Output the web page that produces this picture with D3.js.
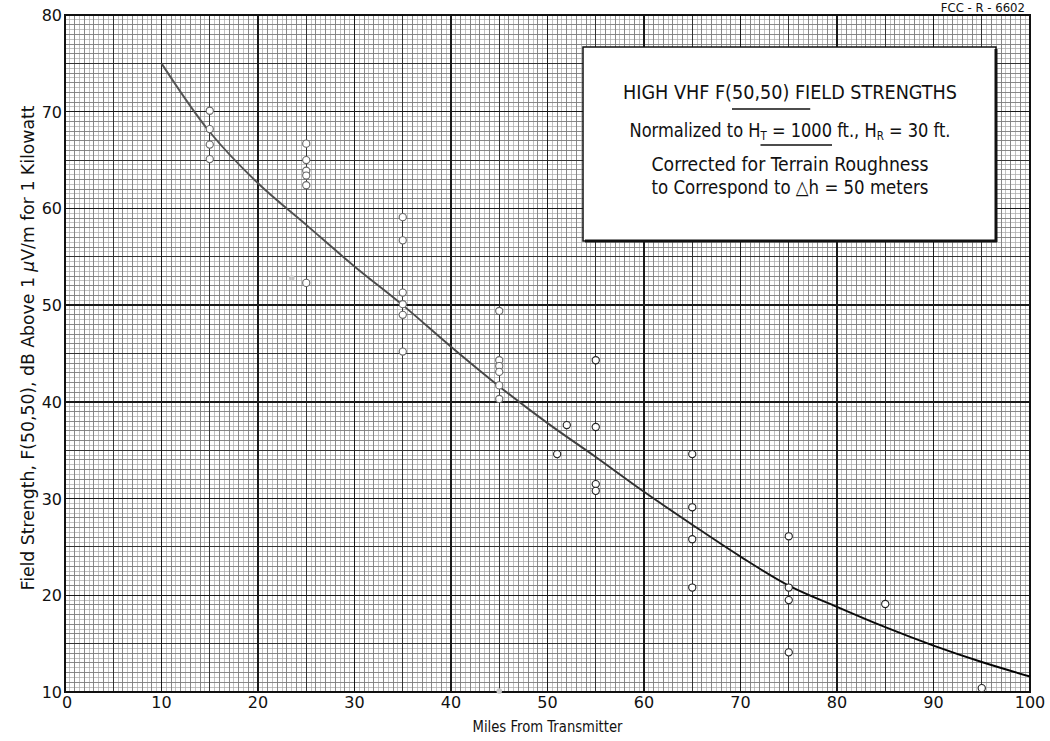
<!DOCTYPE html>
<html>
<head>
<meta charset="utf-8">
<script src="https://cdn.jsdelivr.net/npm/d3@7"></script>
<style>
  html, body { margin: 0; padding: 0; background: #fff; }
  svg { display: block; }
  .cond { font-family: 'Liberation Sans Narrow', 'DejaVu Sans Condensed', 'Roboto Condensed', 'Liberation Sans', sans-serif; }
  .tick { font-family: 'DejaVu Sans', sans-serif; }
</style>
</head>
<body>
<svg id="chart" width="1050" height="741"></svg>
<script>
// ---- Data ----
const xTicks = [0, 10, 20, 30, 40, 50, 60, 70, 80, 90, 100];
const yTicks = [10, 20, 30, 40, 50, 60, 70, 80];

// Measured points (miles, dB)
const pointMiles = [15, 15, 15, 15,
  25, 25, 25, 25, 25, 25,
  35, 35, 35, 35, 35, 35,
  45, 45, 45, 45, 45, 45,
  51, 52,
  55, 55, 55, 55,
  65, 65, 65, 65,
  75, 75, 75, 75,
  85, 95];
const pointDb = [70.1, 68.2, 66.6, 65.1,
  66.7, 65.0, 63.9, 63.4, 62.4, 52.3,
  59.1, 56.7, 51.3, 50.1, 49.0, 45.2,
  49.4, 44.3, 43.7, 43.1, 41.7, 40.3,
  34.6, 37.6,
  44.3, 37.4, 31.5, 30.8,
  34.6, 29.1, 25.8, 20.8,
  26.1, 20.8, 19.5, 14.1,
  19.1, 10.4];

// Faint smudged points
const faintMiles = [23.5, 45];
const faintDb = [52.8, 10.1];

// Fitted curve
const curveMiles = [10, 15, 20, 25, 30, 35, 40, 45, 50, 55, 60, 65, 70, 75, 80, 85, 90, 95, 100];
const curveDb = [75.0, 67.9, 62.6, 58.3, 54.0, 50.0, 45.7, 41.6, 37.8, 34.3, 30.7, 27.3, 24.0, 21.0, 18.8, 16.7, 14.8, 13.1, 11.6];

// ---- Layout ----
const svg = d3.select('#chart');
const pL = 65, pR = 1030, pT = 15, pB = 692;
const x = d3.scaleLinear().domain([0, 100]).range([pL, pR]);
const y = d3.scaleLinear().domain([10, 80]).range([pB, pT]);

// Grid
const g = svg.append('g');
function vlines(step, color, w) {
  g.append('g').selectAll('line').data(d3.range(0, 100 + 1e-9, step)).join('line')
    .attr('x1', d => x(d)).attr('x2', d => x(d)).attr('y1', pT).attr('y2', pB)
    .attr('stroke', color).attr('stroke-width', w).attr('shape-rendering', 'crispEdges');
}
function hlines(step, color, w) {
  g.append('g').selectAll('line').data(d3.range(10, 80 + 1e-9, step)).join('line')
    .attr('y1', d => y(d)).attr('y2', d => y(d)).attr('x1', pL).attr('x2', pR)
    .attr('stroke', color).attr('stroke-width', w).attr('shape-rendering', 'crispEdges');
}
vlines(0.5, '#a8a8a8', 0.7); hlines(0.5, '#a8a8a8', 0.7);
vlines(1, '#7a7a7a', 0.8); hlines(1, '#7a7a7a', 0.8);
vlines(5, '#333', 1.1); hlines(5, '#333', 1.1);
vlines(10, '#1a1a1a', 1.4); hlines(10, '#1a1a1a', 1.4);
g.append('rect').attr('x', pL).attr('y', pT).attr('width', pR - pL).attr('height', pB - pT)
  .attr('fill', 'none').attr('stroke', '#111').attr('stroke-width', 2);

// Axis labels (ticks)
svg.append('g').selectAll('text').data(xTicks).join('text').attr('class', 'tick')
  .attr('x', d => x(d) + (d === 0 ? 2 : 0)).attr('y', pB + 16)
  .attr('text-anchor', 'middle').attr('font-size', 16).attr('fill', '#111').text(d => d);
svg.append('g').selectAll('text').data(yTicks).join('text').attr('class', 'tick')
  .attr('x', pL - 3).attr('y', d => y(d) + 6)
  .attr('text-anchor', 'end').attr('font-size', 16).attr('fill', '#111').text(d => d);

// Curve with gradient (lighter on left, darker on right as in the print)
const defs = svg.append('defs');
const grad = defs.append('linearGradient').attr('id', 'cg').attr('gradientUnits', 'userSpaceOnUse')
  .attr('x1', x(10)).attr('x2', x(100)).attr('y1', 0).attr('y2', 0);
grad.append('stop').attr('offset', '0%').attr('stop-color', '#555');
grad.append('stop').attr('offset', '45%').attr('stop-color', '#444');
grad.append('stop').attr('offset', '70%').attr('stop-color', '#111');
grad.append('stop').attr('offset', '100%').attr('stop-color', '#000');
const line = d3.line().x((d, i) => x(curveMiles[i])).y(d => y(d)).curve(d3.curveCatmullRom);
svg.append('path').datum(curveDb).attr('d', line).attr('fill', 'none')
  .attr('stroke', 'url(#cg)').attr('stroke-width', 1.9);

// Points
svg.append('g').selectAll('circle').data(pointDb).join('circle')
  .attr('cx', (d, i) => x(pointMiles[i])).attr('cy', d => y(d)).attr('r', 3.6)
  .attr('fill', '#fff').attr('stroke', (d, i) => pointMiles[i] < 50 ? '#666' : '#222').attr('stroke-width', 1.1);
svg.append('g').selectAll('circle').data(faintDb).join('circle')
  .attr('cx', (d, i) => x(faintMiles[i])).attr('cy', d => y(d)).attr('r', 2.8)
  .attr('fill', '#c8c8c8').attr('stroke', 'none');

// Legend box
const bx = 583, by = 47, bw = 413, bh = 194;
svg.append('rect').attr('x', bx).attr('y', by).attr('width', bw).attr('height', bh)
  .attr('fill', '#fff').attr('stroke', '#111').attr('stroke-width', 1.5);
svg.append('line').attr('x1', bx + bw).attr('x2', bx + bw).attr('y1', by + 2).attr('y2', by + bh + 1)
  .attr('stroke', '#111').attr('stroke-width', 3);
svg.append('line').attr('x1', bx + 2).attr('x2', bx + bw + 1).attr('y1', by + bh).attr('y2', by + bh)
  .attr('stroke', '#111').attr('stroke-width', 3);

const cx = 790;
function condText(yy, size, len) {
  return svg.append('text').attr('class', 'cond').attr('x', cx).attr('y', yy)
    .attr('text-anchor', 'middle').attr('font-size', size).attr('fill', '#111')
    .attr('textLength', len).attr('lengthAdjust', 'spacingAndGlyphs');
}
const t1 = condText(99, 20, 334).text('HIGH VHF F(50,50) FIELD STRENGTHS');
const t2 = condText(137, 19, 321);
t2.append('tspan').text('Normalized to H');
t2.append('tspan').attr('font-size', 12).attr('baseline-shift', '-25%').text('T');
t2.append('tspan').text(' = 1000 ft.,  H');
t2.append('tspan').attr('font-size', 12).attr('baseline-shift', '-25%').text('R');
t2.append('tspan').text(' = 30 ft.');
condText(171, 19, 277).text('Corrected for Terrain Roughness');
condText(194, 19, 277).text('to Correspond to \u25B3h = 50 meters');

// Underlines based on text glyph extents
function underline(textSel, i0, i1, yy) {
  const n = textSel.node();
  const a = n.getExtentOfChar(i0), b = n.getExtentOfChar(i1);
  svg.append('line').attr('x1', a.x).attr('x2', b.x + b.width).attr('y1', yy).attr('y2', yy)
    .attr('stroke', '#111').attr('stroke-width', 1.6);
}
const s1 = 'HIGH VHF F(50,50) FIELD STRENGTHS';
underline(t1, s1.indexOf('(') + 1, s1.indexOf('FIELD') + 1, 109);
underline(t2, 15, 15 + 1 + 6, 145);

// Axis titles
svg.append('text').attr('class', 'tick').attr('x', x(50)).attr('y', 732)
  .attr('text-anchor', 'middle').attr('font-size', 16).attr('fill', '#111')
  .attr('textLength', 150).attr('lengthAdjust', 'spacingAndGlyphs')
  .text('Miles From Transmitter');
const yt = svg.append('text').attr('class', 'tick')
  .attr('transform', 'translate(34,348) rotate(-90)')
  .attr('text-anchor', 'middle').attr('font-size', 17).attr('fill', '#111')
  .attr('textLength', 485).attr('lengthAdjust', 'spacingAndGlyphs');
yt.append('tspan').text('Field Strength,  F(50,50),  dB Above 1 ');
yt.append('tspan').attr('font-style', 'italic').text('\u03BC');
yt.append('tspan').text('V/m for 1 Kilowatt');

svg.append('text').attr('class', 'cond').attr('x', 1025).attr('y', 12)
  .attr('text-anchor', 'end').attr('font-size', 13).attr('fill', '#111')
  .text('FCC - R - 6602');
</script>
</body>
</html>
